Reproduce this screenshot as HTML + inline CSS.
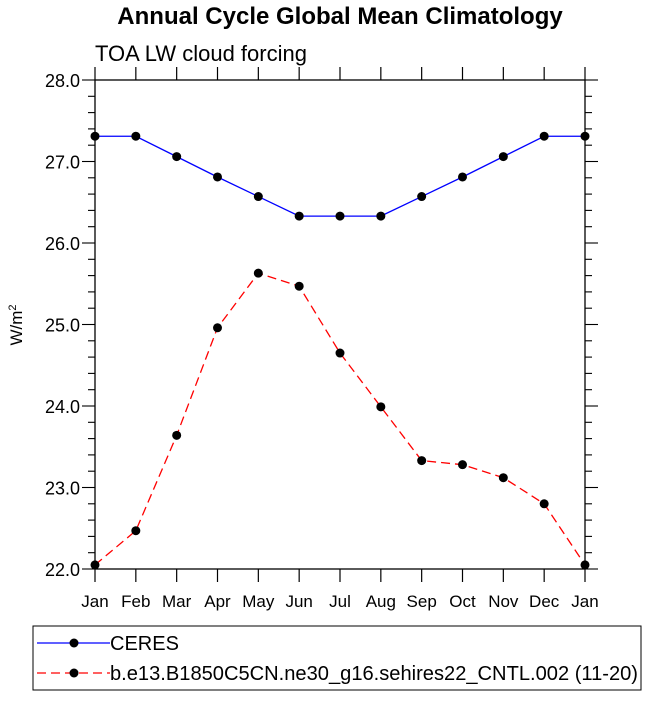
<!DOCTYPE html>
<html><head><meta charset="utf-8"><style>
body{margin:0;background:#fff;}
svg text{font-family:"Liberation Sans",Helvetica,sans-serif;}
</style></head><body>
<svg id="chart" width="648" height="696" xmlns="http://www.w3.org/2000/svg">
<text x="340" y="24" font-size="24" font-weight="bold" text-anchor="middle">Annual Cycle Global Mean Climatology</text>
<text x="95" y="61" font-size="22">TOA LW cloud forcing</text>
<text transform="translate(22,325) rotate(-90)" font-size="17" text-anchor="middle">W/m<tspan baseline-shift="super" font-size="11">2</tspan></text>
<g id="axes"></g>
<g id="series"></g>
<g>
<rect x="33" y="626" width="608" height="64" fill="none" stroke="#000" stroke-width="1"/>
<g>
<line x1="37" y1="643" x2="110" y2="643" stroke="#0000ff" stroke-width="1.3"/>
<circle cx="74" cy="643" r="4.5" fill="#000"/>
<text x="110" y="650" font-size="20">CERES</text></g>
<g>
<line x1="37" y1="673" x2="110" y2="673" stroke="#ff0000" stroke-width="1.3" stroke-dasharray="9,5"/>
<circle cx="74" cy="673" r="4.5" fill="#000"/>
<text x="110" y="680" font-size="20" textLength="528" lengthAdjust="spacingAndGlyphs">b.e13.B1850C5CN.ne30_g16.sehires22_CNTL.002 (11-20)</text></g>
</g>
</svg>
<script>
const months=["Jan","Feb","Mar","Apr","May","Jun","Jul","Aug","Sep","Oct","Nov","Dec","Jan"];
const yTicks=[22,23,24,25,26,27,28];
const ceres=[27.31,27.31,27.06,26.81,26.57,26.33,26.33,26.33,26.57,26.81,27.06,27.31,27.31];
const model=[22.05,22.47,23.64,24.96,25.63,25.47,24.65,23.99,23.33,23.28,23.12,22.80,22.05];
const L=95,R=585,T=80,B=569;
const x=i=>L+(R-L)*i/12;
const y=v=>B-(v-22)/6*(B-T);
const NS="http://www.w3.org/2000/svg";
function mk(tag,attrs,parent){const e=document.createElementNS(NS,tag);for(const k in attrs)e.setAttribute(k,attrs[k]);parent.appendChild(e);return e;}
const ax=document.getElementById('axes');
const frame=mk('rect',{x:L,y:T,width:R-L,height:B-T,fill:'none',stroke:'#000','stroke-width':1.3},ax);


months.forEach((m,i)=>{
 const xx=x(i);
 mk('line',{x1:xx,y1:B,x2:xx,y2:B+13,stroke:'#000','stroke-width':1.2},ax);
 mk('line',{x1:xx,y1:T,x2:xx,y2:T-13,stroke:'#000','stroke-width':1.2},ax);
 const t=mk('text',{x:xx,y:B+38,'font-size':17,'text-anchor':'middle'},ax);
 t.textContent=m;
 
 
});
for(let v=22;v<=28.001;v+=0.2){
 const yy=y(v);const major=Math.abs(v-Math.round(v))<0.01;const len=major?13:7;
 mk('line',{x1:L,y1:yy,x2:L-len,y2:yy,stroke:'#000','stroke-width':1.1},ax);
 mk('line',{x1:R,y1:yy,x2:R+len,y2:yy,stroke:'#000','stroke-width':1.1},ax);
}
yTicks.forEach(v=>{
 const t=mk('text',{x:L-15,y:y(v)+7,'font-size':18,'text-anchor':'end'},ax);
 t.textContent=v.toFixed(1);
 
 
});
const sg=document.getElementById('series');
function series(vals,color,dash,name){
 const g=mk('g',{},sg);
 
 
 const p=mk('polyline',{points:vals.map((v,i)=>x(i)+','+y(v)).join(' '),fill:'none',stroke:color,'stroke-width':1.3},g);
 if(dash)p.setAttribute('stroke-dasharray',dash);
 vals.forEach((v,i)=>{
  const c=mk('circle',{cx:x(i),cy:y(v),r:4.5,fill:'#000'},g);
  
  
 });
}
series(ceres,'#0000ff',null,'ceres-series');
series(model,'#ff0000','9,5','model-series');
</script>
</body></html>
